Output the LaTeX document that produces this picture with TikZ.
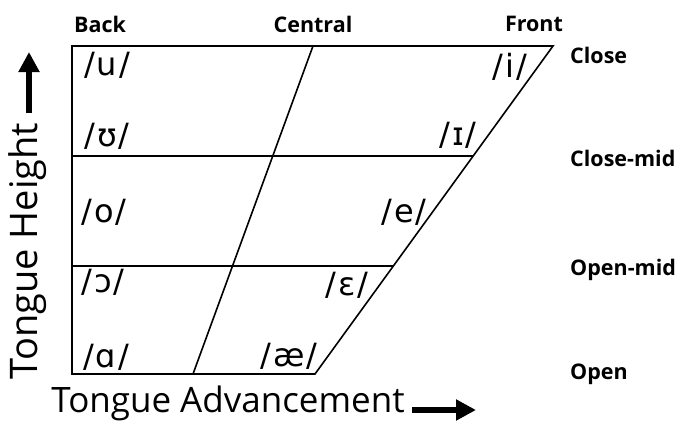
\documentclass[tikz,border=0pt]{standalone}
\usepackage{fontspec}
\setmainfont{Open Sans}
\newfontfamily\ipafont{DejaVu Sans}
\usetikzlibrary{arrows.meta}
\newcommand{\ipa}[1]{/\hspace{2pt}#1\hspace{2pt}/}
\tikzset{
  chart/.style={line width=1.6pt, line join=miter},
  vowel/.style={font=\ipafont\fontsize{32}{32}\selectfont, inner sep=0pt},
  head/.style={font=\bfseries\fontsize{21.5}{21.5}\selectfont, inner sep=0pt},
  axis/.style={font=\fontsize{35}{35}\selectfont, inner sep=0pt},
  bigarrow/.style={line width=6pt, -{Triangle[length=20pt, width=20pt]}}
}
\begin{document}
\begin{tikzpicture}[x=1pt, y=-1pt]
  \useasboundingbox (0,0) rectangle (683,423);
  % Corners of the chart
  \coordinate (tl) at (72,46);
  \coordinate (tr) at (553,46);
  \coordinate (br) at (315,374);
  \coordinate (bl) at (72,374);
  \coordinate (ct) at (313,46);
  \coordinate (cb) at (193,374);
  \coordinate (cml) at (72,156);
  \coordinate (cmr) at (473,156);
  \coordinate (oml) at (72,266);
  \coordinate (omr) at (393,266);
  % Outline
  \draw[chart] (tl) -- (tr) -- (br) -- (bl) -- cycle;
  % Inner lines
  \draw[chart] (ct) -- (cb);
  \draw[chart] (cml) -- (cmr);
  \draw[chart] (oml) -- (omr);
  % Column heads
  \node[head] (back) at (100,24) {Back};
  \node[head] (central) at (313,24) {Central};
  \node[head] (front) at (534,24) {Front};
  % Row heads
  \node[head, anchor=west] (close) at (570,55) {Close};
  \node[head, anchor=west] (closemid) at (570,158) {Close-mid};
  \node[head, anchor=west] (openmid) at (570,270) {Open-mid};
  \node[head, anchor=west] (open) at (570,374) {Open};
  % Back vowels
  \node[vowel] (u) at (107,65) {\ipa{u}};
  \node[vowel] (upsilon) at (107,136) {\ipa{ʊ}};
  \node[vowel] (o) at (104,212) {\ipa{o}};
  \node[vowel] (openo) at (103,282) {\ipa{ɔ}};
  \node[vowel] (alpha) at (106,357) {\ipa{ɑ}};
  % Front vowels
  \node[vowel] (i) at (510,67) {\ipa{i}};
  \node[vowel] (smalli) at (458,135) {\ipa{ɪ}};
  \node[vowel] (e) at (404,212) {\ipa{e}};
  \node[vowel] (epsilon) at (347,285) {\ipa{ɛ}};
  \node[vowel] (ash) at (289,356) {\ipa{æ}};
  % Axis titles
  \node[axis, rotate=90] (height) at (28,251) {\fontsize{38}{38}\selectfont Tongue Height};
  \coordinate (hs) at (29,113);
  \coordinate (he) at (29,52);
  \draw[bigarrow] (hs) -- (he);
  \node[axis] (adv) at (228,403) {Tongue Advancement};
  \coordinate (as) at (412,410);
  \coordinate (ae) at (476,410);
  \draw[bigarrow] (as) -- (ae);
\end{tikzpicture}
\end{document}
